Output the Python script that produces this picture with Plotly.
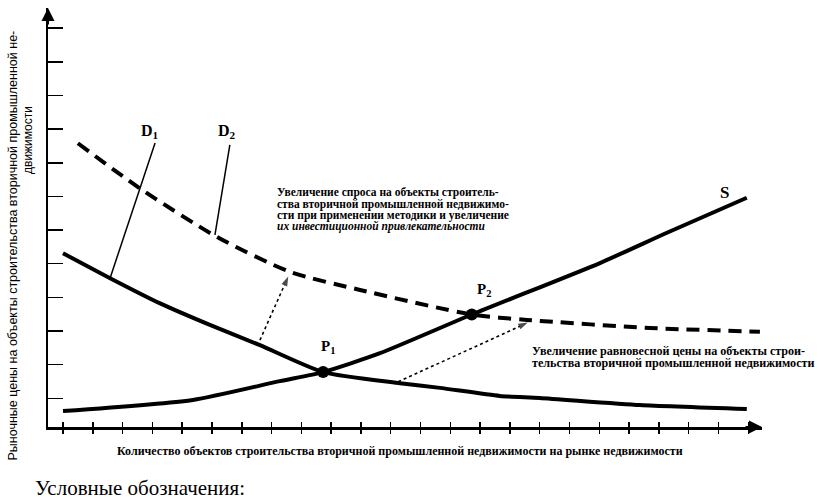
import plotly.graph_objects as go

# ---- data (quantity in tick units, price in tick units) ----
s_q = [0, 4.36, 7.28, 8.73, 10.64, 13.72, 18.02, 20.27, 22.95]
s_p = [-0.38, -0.05, 0.51, 0.78, 1.34, 2.49, 4.02, 4.92, 5.96]

d1_q = [0, 1.58, 3.26, 4.93, 6.61, 8.73, 11.31, 12.65, 14.66, 16.0, 19.36, 22.95]
d1_p = [4.31, 3.57, 2.82, 2.18, 1.58, 0.78, 0.45, 0.31, 0.07, 0.01, -0.2, -0.32]

d2_q = [0.5, 2.58, 5.16, 7.62, 9.97, 13.72, 15.57, 19.7, 23.39]
d2_p = [7.58, 6.24, 4.80, 3.76, 3.22, 2.49, 2.33, 2.09, 1.98]

eq_q = [8.73, 13.72]
eq_p = [0.78, 2.49]
eq_labels = ["P<sub>1</sub>", "P<sub>2</sub>"]

shift1_q = [6.61, 7.56]
shift1_p = [1.73, 3.62]
shift2_q = [11.25, 15.6]
shift2_p = [0.49, 2.25]

lead1_q = [3.09, 1.58]
lead1_p = [7.59, 3.57]
lead2_q = [5.6, 5.1]
lead2_p = [7.53, 4.86]

x_ticks = list(range(0, 24))
y_ticks = list(range(0, 12))

note1 = ["Увеличение спроса на объекты строитель-",
         "ства вторичной промышленной недвижимо-",
         "сти при применении методики и увеличение",
         "<i>их инвестиционной привлекательности</i>"]
note2 = ["Увеличение равновесной цены на объекты строи-",
         "тельства вторичной промышленной недвижимости"]
x_title = "Количество объектов строительства вторичной промышленной недвижимости на рынке недвижимости"
y_title1 = "Рыночные цены на объекты строительства вторичной промышленной не-"
y_title2 = "движимости"
legend_title = "Условные обозначения:"

# ---- layout geometry (pixels) ----
W, H = 820, 499
L, R, T, B = 48, 58, 8, 72
PW, PH = W - L - R, H - T - B


def px(x):
    return (x - L) / PW


def py(y):
    return (H - B - y) / PH


SERIF = "Liberation Serif, Times New Roman, serif"
SANS = "Liberation Sans, Arial, sans-serif"


def label(text, x, y, size, family=SERIF, xanchor="center", angle=0):
    return dict(xref="paper", yref="paper", x=px(x), y=py(y), text=text,
                xanchor=xanchor, yanchor="middle", textangle=angle, showarrow=False,
                font=dict(family=family, size=size, color="black"))


fig = go.Figure()

fig.add_trace(go.Scatter(x=d2_q, y=d2_p, mode="lines",
                         line=dict(color="black", width=4, dash="13px,8px", shape="spline", smoothing=0.7),
                         hoverinfo="skip", showlegend=False))
fig.add_trace(go.Scatter(x=d1_q, y=d1_p, mode="lines",
                         line=dict(color="black", width=4, shape="spline", smoothing=0.6),
                         hoverinfo="skip", showlegend=False))
fig.add_trace(go.Scatter(x=s_q, y=s_p, mode="lines",
                         line=dict(color="black", width=4, shape="spline", smoothing=0.6),
                         hoverinfo="skip", showlegend=False))
for lq, lp in [(lead1_q, lead1_p), (lead2_q, lead2_p)]:
    fig.add_trace(go.Scatter(x=lq, y=lp, mode="lines",
                             line=dict(color="black", width=1.5),
                             hoverinfo="skip", showlegend=False))
for aq, ap in [(shift1_q, shift1_p), (shift2_q, shift2_p)]:
    fig.add_trace(go.Scatter(x=aq, y=ap, mode="lines+markers",
                             line=dict(color="black", width=1.6, dash="3px,3px"),
                             marker=dict(symbol="arrow", size=[0, 10], angleref="previous",
                                         color="black", line=dict(width=0)),
                             hoverinfo="skip", showlegend=False))
fig.add_trace(go.Scatter(x=eq_q, y=eq_p, mode="markers",
                         marker=dict(color="black", size=12),
                         hoverinfo="skip", showlegend=False))

# secondary x axis for ticks crossing below the axis line
fig.add_trace(go.Scatter(x=[x_ticks[0]], y=[y_ticks[0]], xaxis="x2", mode="markers",
                         marker=dict(size=0, opacity=0), hoverinfo="skip", showlegend=False))

ann = []
# axis arrowheads
ann.append(dict(xref="paper", yref="paper", x=1, y=0, ax=-18, ay=0, text="",
                showarrow=True, arrowhead=2, arrowsize=1.3, arrowwidth=2, arrowcolor="black"))
ann.append(dict(xref="paper", yref="paper", x=0, y=1, ax=0, ay=18, text="",
                showarrow=True, arrowhead=2, arrowsize=1.3, arrowwidth=2, arrowcolor="black"))

ann.append(label("<b>D<sub>1</sub></b>", 150, 131, 16))
ann.append(label("<b>D<sub>2</sub></b>", 227, 131, 16))
ann.append(label("<b>S</b>", 724, 193, 17))
for lbl, xx, yy in zip(eq_labels, [328, 484], [347, 290]):
    ann.append(label("<b>" + lbl + "</b>", xx, yy, 15))

for i, line in enumerate(note1):
    ann.append(label("<b>" + line + "</b>", 275, 193 + 11.3 * i, 11.5, xanchor="left"))
for i, line in enumerate(note2):
    ann.append(label("<b>" + line + "</b>", 530, 351 + 11.5 * i, 12.1, xanchor="left"))

ann.append(label("<b>" + x_title + "</b>", 400, 451, 12))
ann.append(label(y_title1, 12.5, 246, 12.5, family=SANS, angle=-90))
ann.append(label(y_title2, 28, 140, 12, family=SANS, angle=-90))
ann.append(label(legend_title, 33, 488, 21, xanchor="left"))

xr = [-0.503, 23.46]
fig.update_layout(
    width=W, height=H,
    margin=dict(l=L, r=R, t=T, b=B, pad=0, autoexpand=False),
    paper_bgcolor="white", plot_bgcolor="white",
    xaxis=dict(range=xr, showgrid=False, zeroline=False, showline=True, linecolor="black",
               linewidth=2.5, ticks="inside", ticklen=5, tickwidth=1.5, tickcolor="black",
               tickvals=x_ticks, showticklabels=False, fixedrange=True),
    xaxis2=dict(range=xr, overlaying="x", side="bottom", anchor="y", showgrid=False,
                zeroline=False, showline=False, ticks="outside", ticklen=6, tickwidth=1.5,
                tickcolor="black", tickvals=x_ticks, showticklabels=False, fixedrange=True),
    yaxis=dict(range=[-0.853, 11.6], showgrid=False, zeroline=False, showline=True,
               linecolor="black", linewidth=2.5, ticks="inside", ticklen=15, tickwidth=1.5,
               tickcolor="black", tickvals=y_ticks, showticklabels=False, fixedrange=True),
    annotations=ann,
    showlegend=False,
)

fig.write_html("out.html", config={"displayModeBar": False, "staticPlot": True},
               post_script="document.body.style.margin='0';document.body.style.overflow='hidden';")
